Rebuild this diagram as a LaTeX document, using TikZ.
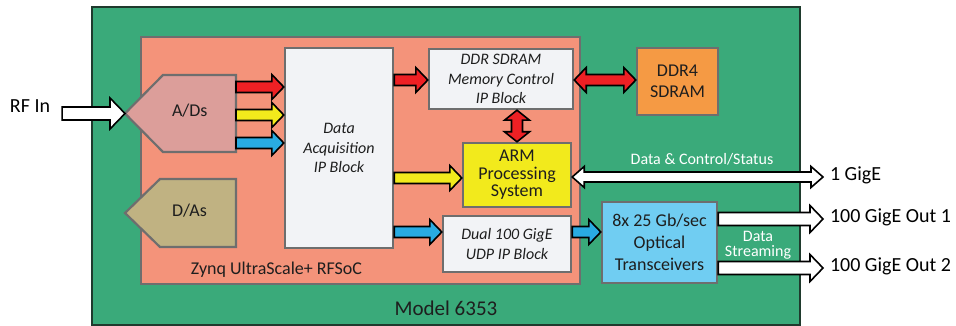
\documentclass[tikz,border=0pt]{standalone}
\usepackage{fontspec}
\setmainfont{Carlito}
\usepackage{tikz}
\usetikzlibrary{positioning, calc, backgrounds}
\definecolor{boardgreen}{HTML}{3AAA7A}
\definecolor{boardedge}{HTML}{1F3A2D}
\definecolor{socorange}{HTML}{F4937A}
\definecolor{adcpink}{HTML}{DC9E9A}
\definecolor{dacolive}{HTML}{C0B282}
\definecolor{blockgray}{HTML}{F2F3F6}
\definecolor{armyellow}{HTML}{F2EA1C}
\definecolor{ddrorange}{HTML}{F59A44}
\definecolor{opticblue}{HTML}{70CDF2}
\definecolor{edgegray}{HTML}{6E6E6E}
\definecolor{arrowred}{HTML}{EE2024}
\definecolor{arrowyellow}{HTML}{F2EA1C}
\definecolor{arrowblue}{HTML}{29ABE2}
\definecolor{textdark}{HTML}{1E1E1E}

\newcommand{\arrshaft}{5.5}
\newcommand{\arrhead}{12.5}
\newcommand{\arrtip}{12}
\newcommand{\blockarrow}[3]{%
  \draw[blockedge, fill=#1] ($(#2)+(0,-\arrshaft)$) -- ($(#3)+(-\arrtip,-\arrshaft)$) -- ($(#3)+(-\arrtip,-\arrhead)$) -- (#3) -- ($(#3)+(-\arrtip,\arrhead)$) -- ($(#3)+(-\arrtip,\arrshaft)$) -- ($(#2)+(0,\arrshaft)$) -- cycle;}
\newcommand{\dblarrow}[3]{%
  \draw[blockedge, fill=#1] (#2) -- ($(#2)+(\arrtip,-\arrhead)$) -- ($(#2)+(\arrtip,-\arrshaft)$) -- ($(#3)+(-\arrtip,-\arrshaft)$) -- ($(#3)+(-\arrtip,-\arrhead)$) -- (#3) -- ($(#3)+(-\arrtip,\arrhead)$) -- ($(#3)+(-\arrtip,\arrshaft)$) -- ($(#2)+(\arrtip,\arrshaft)$) -- ($(#2)+(\arrtip,\arrhead)$) -- cycle;}
\newcommand{\vdblarrow}[3]{%
  \draw[blockedge, fill=#1] (#2) -- ($(#2)+(\arrhead,\arrtip)$) -- ($(#2)+(\arrshaft,\arrtip)$) -- ($(#3)+(\arrshaft,-\arrtip)$) -- ($(#3)+(\arrhead,-\arrtip)$) -- (#3) -- ($(#3)+(-\arrhead,-\arrtip)$) -- ($(#3)+(-\arrshaft,-\arrtip)$) -- ($(#2)+(-\arrshaft,\arrtip)$) -- ($(#2)+(-\arrhead,\arrtip)$) -- cycle;}

\begin{document}
\begin{tikzpicture}[
    x=1pt, y=-1pt,
    board/.style={rectangle, draw=boardedge, line width=1.5pt, fill=boardgreen, inner sep=0pt},
    soc/.style={rectangle, draw=edgegray, line width=2.4pt, fill=socorange, inner sep=0pt},
    ipblock/.style={rectangle, draw=edgegray, line width=2.4pt, fill=blockgray, text=textdark, align=center, inner sep=0pt, font=\fontsize{16}{19.5}\selectfont\itshape},
    chip/.style={rectangle, draw=edgegray, line width=2.4pt, text=textdark, align=center, inner sep=0pt, font=\fontsize{18}{21}\selectfont},
    converter/.style={rectangle, inner ysep=0pt, outer sep=0pt, align=left, text=textdark, text height=0.9em, text depth=0.26em, font=\fontsize{18}{18}\selectfont},
    convshape/.style={draw=edgegray, line width=2.2pt, line join=miter},
    blockedge/.style={draw=black, line width=1.6pt, line join=miter},
    extlabel/.style={inner ysep=0pt, outer sep=0pt, text=black, text height=0.9em, text depth=0.26em, font=\fontsize{20}{20}\selectfont},
    wirelabel/.style={text=white, align=center, inner sep=0pt, font=\fontsize{16}{15}\selectfont}
]
\useasboundingbox (0,0) rectangle (956,326);

% Board and RFSoC
\begin{scope}[on background layer]
\node[board, minimum width=708pt, minimum height=318pt] (board) at (446,166) {};
\node[soc, minimum width=439pt, minimum height=247pt] (rfsoc) at (360.5,160.5) {};
\end{scope}
\node[font=\fontsize{21}{21}\selectfont, text=textdark] (model) at (446,308) {Model 6353};
\node[font=\fontsize{18}{18}\selectfont, text=textdark] (soclabel) at (276.5,270) {Zynq UltraScale+ RFSoC};

% Converters
\node[converter, inner xsep=9pt, text width=55pt, minimum height=77pt] (adc) at (199.5,113.5) {A/Ds};
\node[converter, inner xsep=12pt, text width=52pt, minimum height=68pt] (dac) at (198,213) {D/As};
\begin{scope}[on background layer]
\draw[convshape, fill=adcpink] (adc.north east) -- (adc.south east) -- (adc.south west) -- ($(adc.west)+(-38,0)$) coordinate (adctip) -- (adc.north west) -- cycle;
\draw[convshape, fill=dacolive] (dac.north east) -- (dac.south east) -- (dac.south west) -- ($(dac.west)+(-35,0)$) -- (dac.north west) -- cycle;
\end{scope}

% IP blocks
\node[ipblock, minimum width=108pt, minimum height=200pt] (daq) at (339,148) {Data\\Acquisition\\IP Block};
\node[ipblock, minimum width=144pt, minimum height=60pt] (memctrl) at (501,79) {DDR SDRAM\\Memory Control\\IP Block};
\node[ipblock, minimum width=128pt, minimum height=56pt] (dual) at (507,244) {Dual 100 GigE\\UDP IP Block};
\node[chip, fill=armyellow, minimum width=108pt, minimum height=64pt, font=\fontsize{18}{17.5}\selectfont] (arm) at (517,175) {ARM\\Processing\\System};

% Outside the RFSoC
\node[chip, fill=ddrorange, minimum width=81pt, minimum height=67pt] (ddr4) at (677.5,81.5) {DDR4\\SDRAM};
\node[chip, fill=opticblue, minimum width=115pt, minimum height=81pt, font=\fontsize{18}{22}\selectfont] (optical) at (659.5,242.5) {8x 25 Gb/sec\\Optical\\Transceivers};

% External ports
\node[extlabel, inner xsep=12pt] (rfin) at (30,109) {RF In};
\node[extlabel, inner xsep=7pt, anchor=west] (gige) at (823,177) {1 GigE};
\node[extlabel, inner xsep=7pt, anchor=west] (out1) at (823,219) {100 GigE Out 1};
\node[extlabel, inner xsep=7pt, anchor=west] (out2) at (823,268) {100 GigE Out 2};
\node[wirelabel] (ctrllabel) at (702,159) {Data \& Control/Status};
\node[wirelabel] (streamlabel) at (758,245) {Data\\Streaming};

% Arrows
{\renewcommand{\arrshaft}{6.5}\renewcommand{\arrhead}{15.5}\renewcommand{\arrtip}{15}
\blockarrow{white}{rfin.east |- adctip}{adctip}}
\blockarrow{arrowred}{adc.east |- 0,87}{daq.west |- 0,87}
\blockarrow{arrowyellow}{adc.east |- 0,115}{daq.west |- 0,115}
\blockarrow{arrowblue}{adc.east |- 0,143}{daq.west |- 0,143}
\blockarrow{arrowred}{daq.east |- 0,80}{memctrl.west |- 0,80}
\blockarrow{arrowyellow}{daq.east |- 0,178}{arm.west |- 0,178}
\blockarrow{arrowblue}{daq.east |- 0,232}{dual.west |- 0,232}
\blockarrow{arrowblue}{dual.east |- 0,232}{optical.west |- 0,232}
\dblarrow{arrowred}{memctrl.east |- 0,80}{ddr4.west |- 0,80}
{\renewcommand{\arrtip}{10}
\vdblarrow{arrowred}{arm.north |- memctrl.south}{arm.north}}
{\renewcommand{\arrshaft}{5}\renewcommand{\arrhead}{10.5}
\dblarrow{white}{arm.east |- gige.west}{gige.west}}
{\renewcommand{\arrshaft}{6.5}\renewcommand{\arrhead}{13.5}\renewcommand{\arrtip}{13}
\blockarrow{white}{optical.east |- out1.west}{out1.west}
\blockarrow{white}{optical.east |- out2.west}{out2.west}}

\end{tikzpicture}
\end{document}
